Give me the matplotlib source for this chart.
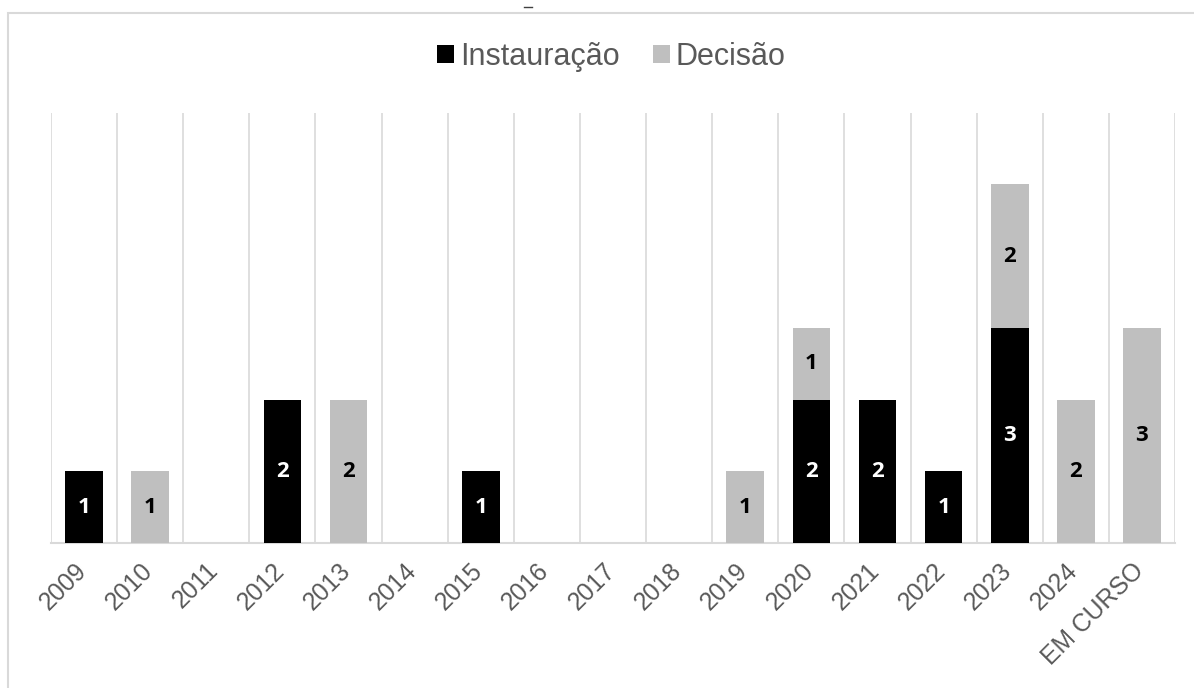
import matplotlib
matplotlib.use("Agg")
import matplotlib.pyplot as plt
import matplotlib.transforms as mtransforms
from matplotlib.lines import Line2D
from matplotlib.patches import Rectangle
import numpy as np

# dados
anos = ["2009", "2010", "2011", "2012", "2013", "2014", "2015", "2016", "2017",
        "2018", "2019", "2020", "2021", "2022", "2023", "2024", "EM CURSO"]
instauracao = [1, 0, 0, 2, 0, 0, 1, 0, 0, 0, 0, 2, 2, 1, 3, 0, 0]
decisao = [0, 1, 0, 0, 2, 0, 0, 0, 0, 0, 1, 1, 0, 0, 2, 2, 3]

cor_inst = "#000000"
cor_dec = "#bfbfbf"
cor_grade = "#d9d9d9"

fig = plt.figure(figsize=(11.94, 6.88), dpi=100)
ax = fig.add_axes([0.0427, 0.2108, 0.9414, 0.6254])

x = np.arange(len(anos))
inst = np.array(instauracao)
dec = np.array(decisao)
largura = 0.57

b1 = ax.bar(x, inst, largura, color=cor_inst, label="Instauração", zorder=3)
b2 = ax.bar(x, dec, largura, bottom=inst, color=cor_dec, label="Decisão", zorder=3)

# rótulos de dados (só onde o valor existe)
for i in range(len(anos)):
    if inst[i] > 0:
        ax.text(x[i], inst[i] / 2, str(inst[i]), ha="center", va="center",
                color="white", fontsize=16, fontweight="bold", family="Open Sans", zorder=4)
    if dec[i] > 0:
        ax.text(x[i], inst[i] + dec[i] / 2, str(dec[i]), ha="center", va="center",
                color="black", fontsize=16, fontweight="bold", family="Open Sans", zorder=4)

ax.set_xlim(-0.5, len(anos) - 0.5)
ax.set_ylim(0, 6)
ax.set_yticks([])

# linhas verticais entre categorias
for k in range(len(anos) + 1):
    ax.axvline(k - 0.5, color=cor_grade, lw=1.2, zorder=1)

for s in ["top", "right", "left"]:
    ax.spines[s].set_visible(False)
ax.spines["bottom"].set_color(cor_grade)
ax.spines["bottom"].set_linewidth(1.5)

ax.set_xticks(x)
ax.set_xticklabels(anos, rotation=45, ha="right", va="top", rotation_mode="anchor",
                   fontsize=17.8, color="#595959", family="Liberation Sans")
ax.tick_params(axis="x", length=0, pad=11)
desloc = mtransforms.ScaledTranslation(-10 / 100, 0, fig.dpi_scale_trans)
for lbl in ax.get_xticklabels():
    lbl.set_transform(lbl.get_transform() + desloc)

leg = fig.legend(handles=[b1, b2], loc="center", bbox_to_anchor=(0.512, 0.917),
                 ncol=2, frameon=False, handlelength=0.55, handleheight=0.55,
                 handletextpad=0.2, columnspacing=1.1,
                 prop={"family": "Liberation Sans", "size": 22})
for t in leg.get_texts():
    t.set_color("#595959")

# moldura do gráfico
fig.add_artist(Rectangle((8 / 1194, -0.05), 1.2, 1 - 13 / 688 + 0.05,
                         transform=fig.transFigure, fill=False,
                         edgecolor=cor_grade, lw=1.5))
fig.add_artist(Line2D([524 / 1194, 532 / 1194], [1 - 7 / 688, 1 - 7 / 688],
                      transform=fig.transFigure, color="#404040", lw=1))

fig.savefig("out.png", dpi=100)
